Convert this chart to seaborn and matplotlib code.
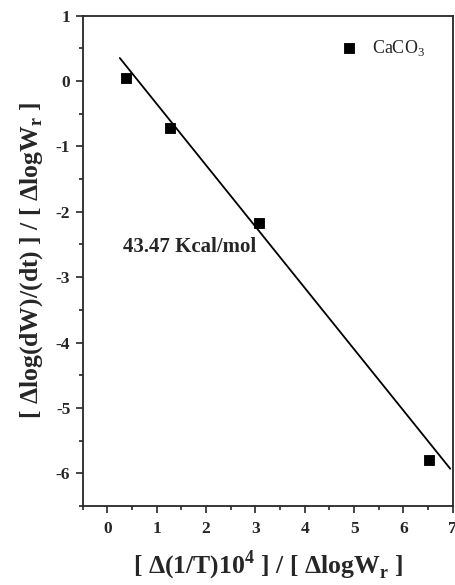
import numpy as np
import pandas as pd
import seaborn as sns
import matplotlib.pyplot as plt
from matplotlib.ticker import MultipleLocator

# measured points
inv_t = [0.37, 1.26, 3.08, 6.51]
log_rate = [0.04, -0.72, -2.17, -5.79]
# fitted line
fit_x = [0.25, 6.95]
fit_y = [0.35, -5.93]

sns.set_style("ticks")
plt.rcParams['font.family'] = ['Liberation Serif', 'DejaVu Serif']
plt.rcParams['mathtext.fontset'] = 'custom'
plt.rcParams['mathtext.rm'] = 'Liberation Serif'
plt.rcParams['mathtext.bf'] = 'Liberation Serif:bold'
plt.rcParams['axes.unicode_minus'] = False

df = pd.DataFrame({'x': inv_t, 'y': log_rate})
df_fit = pd.DataFrame({'x': fit_x, 'y': fit_y})

fig = plt.figure(figsize=(4.55, 5.85), dpi=100)
ax = fig.add_axes([0.182, 0.135, 0.813, 0.8385])

sns.lineplot(x='x', y='y', data=df_fit, ax=ax, color='black', lw=1.3)
sns.scatterplot(x='x', y='y', data=df, ax=ax, marker='s', s=60,
                color='black', edgecolor='black', label='CaCO$_3$', zorder=3)

ax.set_xlim(-0.5, 7)
ax.set_ylim(-6.5, 1)
ax.xaxis.set_major_locator(MultipleLocator(1))
ax.xaxis.set_minor_locator(MultipleLocator(0.5))
ax.yaxis.set_major_locator(MultipleLocator(1))
ax.yaxis.set_minor_locator(MultipleLocator(0.5))
ax.tick_params(which='major', length=5, width=1.2, labelsize=12.5, direction='out')
ax.tick_params(which='minor', length=3, width=1.2, direction='out')
ax.tick_params(axis='y', pad=4)
ax.tick_params(axis='x', pad=6)
for lab in ax.get_xticklabels() + ax.get_yticklabels():
    lab.set_fontweight('bold')
for sp in ax.spines.values():
    sp.set_linewidth(1.3)
    sp.set_visible(True)

ax.set_xlabel(r'[ $\mathbf{\Delta}$(1/T)10$^{\mathbf{4}}$ ] / [ $\mathbf{\Delta}$logW$_{\mathbf{r}}$ ]',
              fontsize=18.5, fontweight='bold', labelpad=8)
ax.set_ylabel(r'[ $\mathbf{\Delta}$log(dW)/(dt) ] / [ $\mathbf{\Delta}$logW$_{\mathbf{r}}$ ]',
              fontsize=18.5, fontweight='bold', labelpad=8)

ax.text(0.31, -2.54, '43.47 Kcal/mol', fontsize=15, fontweight='bold', va='center')

ax.legend(loc='upper left', bbox_to_anchor=(0.67, 0.954), frameon=False,
          fontsize=13, handlelength=2, handletextpad=0.3, borderpad=0,
          borderaxespad=0, markerscale=1.0)

fig.savefig('out.png', dpi=100)
